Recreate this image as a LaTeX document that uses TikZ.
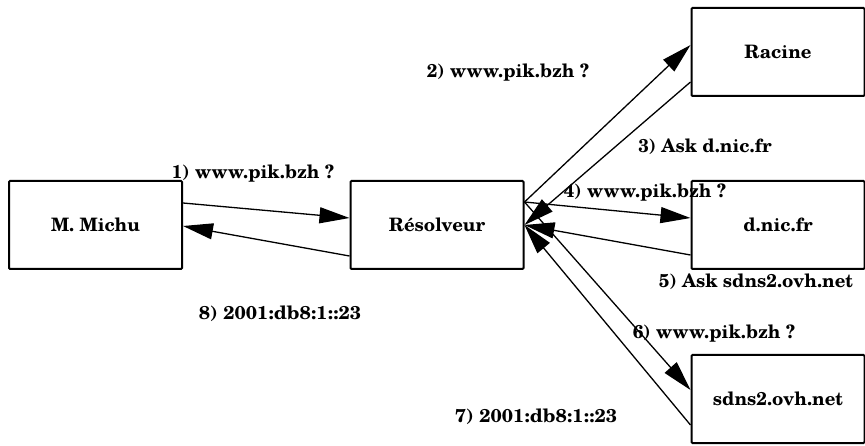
\documentclass[tikz,border=0pt]{standalone}
\usepackage{fontspec}
\setmainfont{TeX Gyre Schola}
\usetikzlibrary{arrows.meta}
\begin{document}
\begin{tikzpicture}[x=1pt,y=-1pt,
  box/.style={draw, line width=2pt, rounded corners=1pt, minimum width=173pt, minimum height=88pt, inner sep=0pt, font=\bfseries\fontsize{18.5}{22}\selectfont},
  lbl/.style={inner sep=0pt, font=\bfseries\fontsize{18.5}{22}\selectfont},
  conn/.style={line width=1.3pt, -{Triangle[length=30pt,width=16pt]}}]
\useasboundingbox (0,0) rectangle (865,446);
\node[box] (michu) at (95.5,225) {M. Michu};
\node[box] (res) at (437,225) {Résolveur};
\node[box] (racine) at (778,52) {Racine};
\node[box] (dnic) at (778,225) {d.nic.fr};
\node[box] (sdns) at (778,399) {sdns2.ovh.net};
% connectors
\draw[conn] ([yshift=22pt]michu.east) -- ([yshift=7pt]res.west);
\draw[conn] ([yshift=-31pt]res.west) -- ([yshift=-1pt]michu.east);
\draw[conn] ([yshift=23pt]res.east) -- ([yshift=7pt]racine.west);
\draw[conn] ([yshift=-30pt]racine.west) -- (res.east);
\draw[conn] ([yshift=23pt]res.east) -- ([yshift=7pt]dnic.west);
\draw[conn] ([yshift=-30pt]dnic.west) -- (res.east);
\draw[conn] ([yshift=23pt]res.east) -- ([yshift=9pt]sdns.west);
\draw[conn] ([yshift=-26pt]sdns.west) -- (res.east);
% labels
\node[lbl] (l1) at (253,174) {1) www.pik.bzh ?};
\node[lbl] (l2) at (508,73) {2) www.pik.bzh ?};
\node[lbl] (l3) at (705,147) {3) Ask d.nic.fr};
\node[lbl] (l4) at (645,193) {4) www.pik.bzh ?};
\node[lbl] (l5) at (756,282) {5) Ask sdns2.ovh.net};
\node[lbl] (l6) at (714,334) {6) www.pik.bzh ?};
\node[lbl] (l7) at (536,417) {\scalebox{1.06}[1]{7) 2001:db8:1::23}};
\node[lbl] (l8) at (280,314) {\scalebox{1.06}[1]{8) 2001:db8:1::23}};
\end{tikzpicture}
\end{document}
